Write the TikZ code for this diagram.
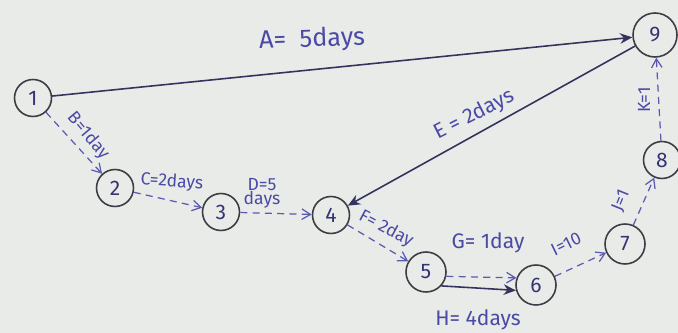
\documentclass[tikz,border=0pt]{standalone}
\usepackage{fontspec}
\setmainfont{Fira Sans}
\usetikzlibrary{arrows.meta}
\definecolor{paper}{HTML}{E9EBE8}
\definecolor{ink}{HTML}{4A4AA6}
\definecolor{solidink}{HTML}{33335E}
\definecolor{dashink}{HTML}{5A5AB0}
\definecolor{circ}{HTML}{3C3C44}
\tikzset{
  ev/.style={circle, draw=circ, line width=0.9pt, minimum size=0.74cm, inner sep=0pt, text=ink!70!black, font=\large},
  act/.style={draw=solidink, line width=0.9pt, -{Stealth[length=7pt,width=6pt]}},
  dact/.style={draw=dashink, line width=0.7pt, dashed, dash pattern=on 4pt off 3pt, -{Straight Barb[length=5pt,width=6pt]}},
  lab/.style={text=ink, font=\normalsize, inner sep=1pt}
}
\begin{document}
\begin{tikzpicture}[x=0.02cm, y=-0.02cm]
\fill[paper] (0,0) rectangle (678,333);
\useasboundingbox (0,0) rectangle (678,333);
\node[ev] (n1) at (33,98) {1};
\node[ev] (n2) at (115,188) {2};
\node[ev] (n3) at (221,212) {3};
\node[ev] (n4) at (331,215) {4};
\node[ev, minimum size=0.8cm] (n5) at (426,272) {5};
\node[ev, minimum size=0.8cm] (n6) at (536,285) {6};
\node[ev, minimum size=0.8cm] (n7) at (625,244) {7};
\node[ev] (n8) at (662,160) {8};
\node[ev, minimum size=0.88cm] (n9) at (655,35) {9};

\draw[act] (n1) -- (n9);
\draw[act] (n9) -- (n4);
\draw[dact] (n1) -- (n2);
\draw[dact] (n2) -- (n3);
\draw[dact] (n3) -- (n4);
\draw[dact] (n4) -- (n5);
\draw[dact] (n5.-12) -- (n6.160);
\draw[act] (n5.-42) -- (n6.-165);
\draw[dact] (n6) -- (n7);
\draw[dact] (n7) -- (n8);
\draw[dact] (n8) -- (n9);

\node[lab, font=\Large, rotate=2] (la) at (312,40) {A=\ \ 5days};
\node[lab, rotate=-50] (lb) at (88,136) {B=1day};
\node[lab, rotate=-4] (lc) at (172,182) {C=2days};
\node[lab, align=center] (ld) at (262,193) {D=5\\[-4pt]days};
\node[lab, font=\large, rotate=27] (le) at (474,115) {E = 2days};
\node[lab, rotate=-28] (lf) at (386,229) {F= 2day};
\node[lab, font=\large] (lg) at (488,243) {G= 1day};
\node[lab, font=\large] (lh) at (478,320) {H= 4days};
\node[lab, rotate=26] (li) at (566,244) {I=10};
\node[lab, rotate=68] (lj) at (621,201) {J=1};
\node[lab, rotate=90] (lk) at (644,100) {K=1};
\end{tikzpicture}
\end{document}
